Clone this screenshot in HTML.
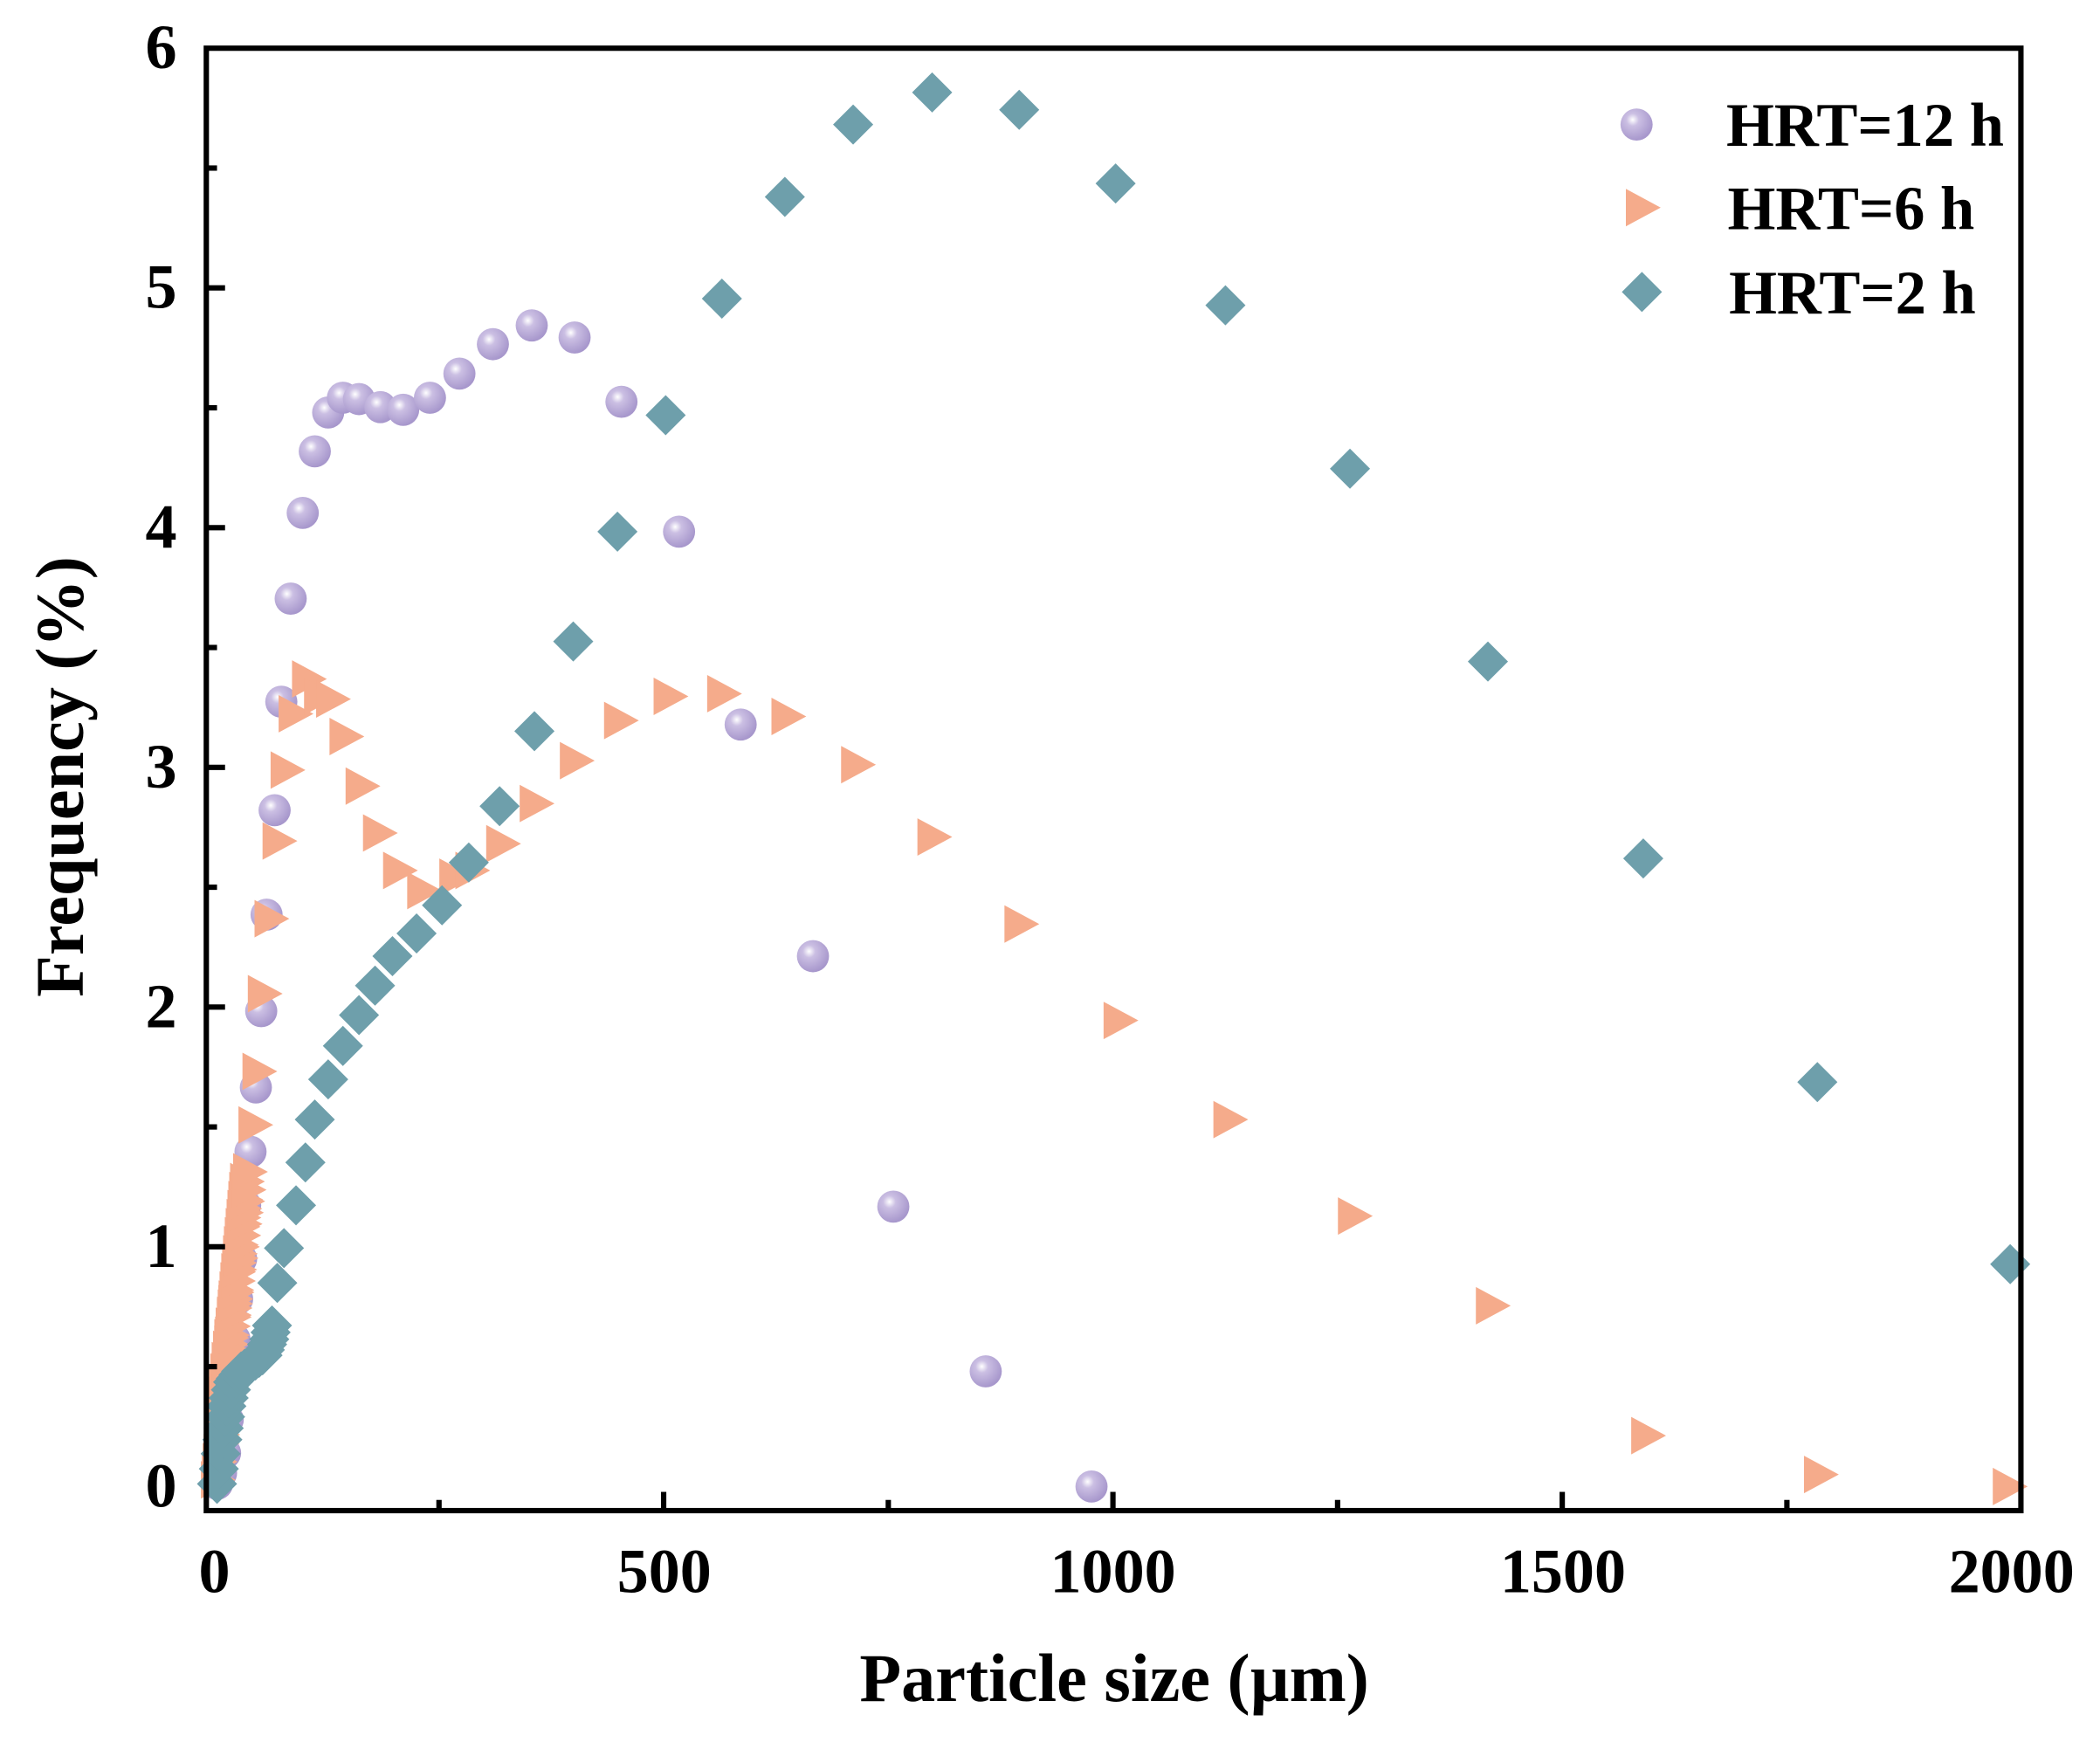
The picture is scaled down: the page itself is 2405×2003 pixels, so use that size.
<!DOCTYPE html>
<html><head><meta charset="utf-8">
<style>
html,body{margin:0;padding:0;background:#fff;}
svg{display:block;}
text{font-family:"Liberation Serif",serif;font-weight:bold;fill:#000;}
</style></head>
<body>
<svg id="s" width="2405" height="2003" viewBox="0 0 1568 1306" xmlns="http://www.w3.org/2000/svg">
<defs>
<radialGradient id="g" cx="0.38" cy="0.35" r="0.65">
<stop offset="0" stop-color="#ffffff"/>
<stop offset="0.3" stop-color="#cbbfe3"/>
<stop offset="1" stop-color="#a797cc"/>
</radialGradient>
</defs>
<g id="pts"></g>
<rect x="154" y="36" width="1355" height="1092" fill="none" stroke="#000" stroke-width="4"/>
<g stroke="#000" stroke-width="4" id="ticks"></g>
<g font-size="47" text-anchor="end">
<text x="132" y="51">6</text>
<text x="132" y="230">5</text>
<text x="132" y="409">4</text>
<text x="132" y="588">3</text>
<text x="132" y="767">2</text>
<text x="132" y="946">1</text>
<text x="132" y="1125">0</text>
</g>
<g font-size="47" text-anchor="middle">
<text x="160" y="1189">0</text>
<text x="496" y="1189">500</text>
<text x="831" y="1189">1000</text>
<text x="1167" y="1189">1500</text>
<text x="1502" y="1189">2000</text>
</g>
<text x="832" y="1270" font-size="51" text-anchor="middle">Particle size (µm)</text>
<text transform="translate(62,580) rotate(-90)" font-size="51" text-anchor="middle">Frequency (%)</text>
<g font-size="46">
<text x="1289" y="109">HRT=12 h</text>
<text x="1290" y="171">HRT=6 h</text>
<text x="1291" y="234">HRT=2 h</text>
</g>
</svg>
<script>
var NS="http://www.w3.org/2000/svg",G=document.getElementById("pts"),T=document.getElementById("ticks");
function el(n,a,p){var e=document.createElementNS(NS,n);for(var k in a)e.setAttribute(k,a[k]);(p||G).appendChild(e);}
function C(x,y){el("circle",{cx:x,cy:y,r:12,fill:"url(#g)"});}
function Tr(x,y){el("polygon",{points:(x-12)+","+(y-14)+" "+(x+14)+","+y+" "+(x-12)+","+(y+14),fill:"#f5ab8b"});}
function D(x,y){el("polygon",{points:x+","+(y-15)+" "+(x+15)+","+y+" "+x+","+(y+15)+" "+(x-15)+","+y,fill:"#6e9fab"});}
for(var i=0;i<=8;i++){var x=160+i*167.75,L=(i%2==0)?14:8;if(i>0&&i<8)el("line",{x1:x,y1:1128,x2:x,y2:1128-L},T);}
for(var j=1;j<12;j++){var y=1110-j*89.5,L=(j%2==0)?14:8;el("line",{x1:154,y1:y,x2:154+L,y2:y},T);}
var c=[[217,447],[226,383],[235,337],[245,308],[256,297],[268,298],[284,304],[301,306],[321,297],[343,279],[368,257],[397,243],[429,252],[464,300],[507,397],[553,541],[607,714],[667,901],[736,1024],[815,1110],[210,524],[205,605],[199,683],[195,755],[191,812],[187,860],[183,900],[180,940],[177,970],[175,1000],[172,1030],[170,1060],[168,1085],[165,1100],[162,1108]];
c.forEach(function(p){C(p[0],p[1]);});
C(1222,93);
for(var t=0;t<=1;t+=0.03){Tr(162+t*22,1105-t*225);}
for(var t=0;t<=1;t+=0.05){Tr(166+t*20,1050-t*170);}
var tr=[[186,875],[190,840],[193,800],[197,742],[202,686],[208,628],[214,575],[220,533],[230,507],[239,520],[248,522],[258,550],[270,587],[283,622],[298,650],[316,665],[340,655],[352,650],[375,630],[400,600],[430,568],[463,538],[500,520],[540,518],[588,535],[640,571],[697,625],[762,690],[836,762],[918,836],[1011,908],[1114,975],[1230,1072],[1359,1101],[1500,1110]];
tr.forEach(function(p){Tr(p[0],p[1]);});
Tr(1226,155);
var path=[[162,1108],[166,1075],[169,1050],[174,1032],[180,1024],[188,1018],[196,1012],[201,1000],[204,985]];
for(var k=0;k<path.length-1;k++){for(var s=0;s<1;s+=0.34){D(path[k][0]+(path[k+1][0]-path[k][0])*s,path[k][1]+(path[k+1][1]-path[k][1])*s);}}
var d=[[207,958],[212,932],[221,900],[228,868],[235,836],[245,806],[256,781],[268,758],[280,736],[293,714],[311,697],[330,676],[350,644],[373,602],[399,546],[428,479],[461,397],[497,310],[539,223],[586,147],[637,93],[696,69],[761,82],[833,137],[915,228],[1008,350],[1111,494],[1227,641],[1357,808],[1501,944]];
d.forEach(function(p){D(p[0],p[1]);});
D(1226,218);
</script>
</body></html>
